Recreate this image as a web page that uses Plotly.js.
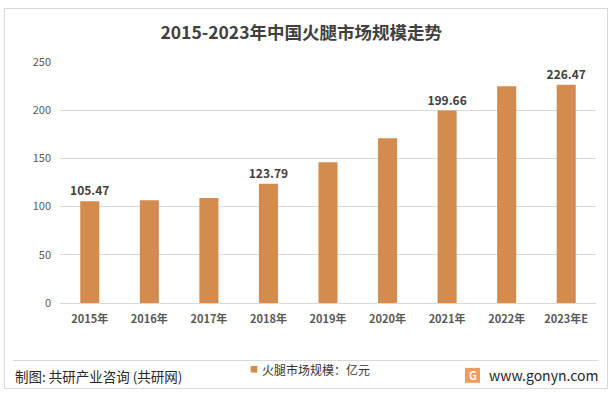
<!DOCTYPE html>
<html>
<head>
<meta charset="utf-8">
<script src="https://cdn.plot.ly/plotly-3.0.1.min.js"></script>
<style>
html,body{margin:0;padding:0;background:#fff;}
#chart{width:616px;height:395px;}
</style>
</head>
<body>
<div id="chart"></div>
<script>
const years = ['2015年','2016年','2017年','2018年','2019年','2020年','2021年','2022年','2023年E'];
const marketSize = [105.47, 106.7, 108.8, 123.79, 146.1, 171.0, 199.66, 224.9, 226.47];
const dataLabels = ['105.47','','','123.79','','','199.66','','226.47'];
const seriesName = '火腿市场规模：亿元';
const yTicks = [0, 50, 100, 150, 200, 250];

const FONT = '"Noto Sans CJK SC", "Microsoft YaHei", sans-serif';
const W = 616, H = 395, ML = 60, MR = 20, MT = 61.5, MB = 92;
const PW = W - ML - MR, PH = H - MT - MB;
const px = x => (x - ML) / PW;
const py = y => (H - MB - y) / PH;
const BAR = '#D38B4F';

const trace = {
  type: 'bar',
  x: years,
  y: marketSize,
  name: seriesName,
  text: dataLabels,
  textposition: 'outside',
  constraintext: 'none',
  cliponaxis: false,
  textfont: {family: FONT, size: 12, color: '#404040', weight: 'bold'},
  marker: {color: BAR},
  hoverinfo: 'x+y'
};

const layout = {
  width: W, height: H,
  margin: {l: ML, r: MR, t: MT, b: MB},
  paper_bgcolor: '#fff', plot_bgcolor: '#fff',
  font: {family: FONT, color: '#595959'},
  title: {text: '<b>2015-2023年中国火腿市场规模走势</b>', x: 0.489, xanchor: 'center', y: 1 - 33 / H, yanchor: 'middle',
          font: {family: FONT, size: 17.5, color: '#404040'}},
  bargap: 0.68,
  showlegend: false,
  xaxis: {type: 'category', showgrid: false, showline: true, linecolor: '#d9d9d9', linewidth: 1,
          ticks: '', tickfont: {family: FONT, size: 11, color: '#595959', weight: 'bold'}, ticklabelstandoff: 6},
  yaxis: {range: [0, 250], tickvals: yTicks, showgrid: true, gridcolor: '#d9d9d9', gridwidth: 1,
          zeroline: false, showline: false, ticks: '', tickfont: {family: FONT, size: 11, color: '#595959'},
          ticklabelstandoff: 8},
  shapes: [
    {type: 'rect', xref: 'paper', yref: 'paper', x0: px(250.7), x1: px(257.3), y0: py(366), y1: py(372.7),
     fillcolor: BAR, line: {width: 0}},
    {type: 'rect', xref: 'paper', yref: 'paper', x0: px(465), x1: px(480), y0: py(368), y1: py(383),
     fillcolor: '#F39A5C', line: {width: 0}}
  ],
  annotations: [
    {text: '制图: 共研产业咨询 (共研网)', xref: 'paper', yref: 'paper', x: px(13), y: py(376),
     xanchor: 'left', yanchor: 'middle', showarrow: false, font: {family: FONT, size: 13.5, color: '#262626'}},
    {text: seriesName, xref: 'paper', yref: 'paper', x: px(259.5), y: py(370),
     xanchor: 'left', yanchor: 'middle', showarrow: false, font: {family: FONT, size: 12, color: '#333333'}},
    {text: 'www.gonyn.com', xref: 'paper', yref: 'paper', x: px(487), y: py(375),
     xanchor: 'left', yanchor: 'middle', showarrow: false, font: {family: FONT, size: 14, color: '#262626'}},
    {text: '<b>G</b>', xref: 'paper', yref: 'paper', x: px(472.5), y: py(375.5),
     xanchor: 'center', yanchor: 'middle', showarrow: false, font: {family: FONT, size: 11, color: '#fff'}}
  ]
};

Plotly.newPlot('chart', [trace], layout, {displayModeBar: false, staticPlot: true}).then(function(){
  const svg = document.querySelector('#chart svg.main-svg');
  const ns = 'http://www.w3.org/2000/svg';
  const r = document.createElementNS(ns, 'rect');
  r.setAttribute('x', 4.5); r.setAttribute('y', 8.5);
  r.setAttribute('width', 603); r.setAttribute('height', 380);
  r.setAttribute('fill', 'none'); r.setAttribute('stroke', '#d9d9d9'); r.setAttribute('stroke-width', 1);
  svg.appendChild(r);
  const l = document.createElementNS(ns, 'line');
  l.setAttribute('x1', 13); l.setAttribute('x2', 598);
  l.setAttribute('y1', 360.5); l.setAttribute('y2', 360.5);
  l.setAttribute('stroke', '#d9d9d9'); l.setAttribute('stroke-width', 1);
  svg.appendChild(l);
});
</script>
</body>
</html>
